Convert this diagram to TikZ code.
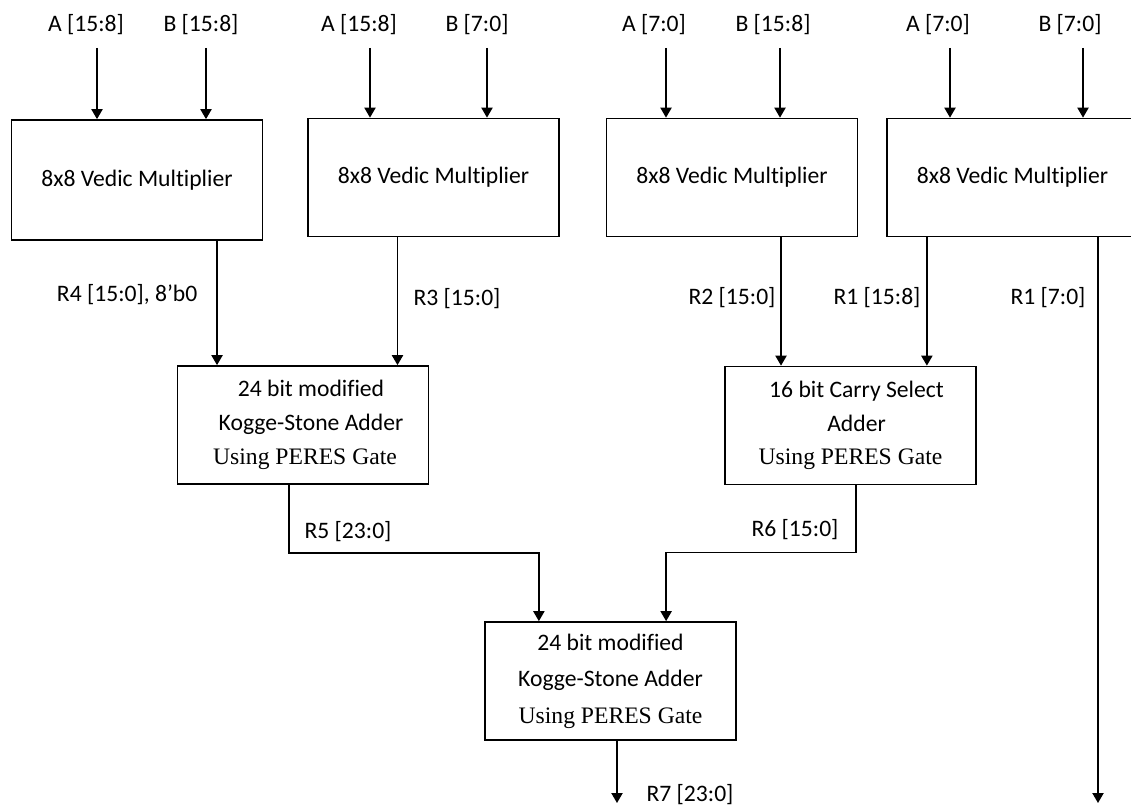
\documentclass[tikz,border=0pt]{standalone}
\usepackage{fontspec}
\setmainfont{Carlito}[Ligatures=NoCommon]
\newfontfamily\peresfont{Liberation Serif}
\usetikzlibrary{arrows.meta,positioning,calc}

\begin{document}
\begin{tikzpicture}[x=0.025cm,y=-0.025cm,
    block/.style={draw,line width=1.2pt,minimum width=6.275cm,minimum height=2.95cm,
        inner sep=0pt,align=center,font=\fontsize{16.8}{24}\selectfont},
    sig/.style={-{Triangle[length=0.25cm,width=0.28cm]},line width=1.1pt},
    lbl/.style={font=\fontsize{16.8}{20}\selectfont,inner sep=1pt}]
    % Page frame
    \useasboundingbox (0,0) rectangle (1131,807);
    \clip (0,0) rectangle (1131,807);

    % Draw the four 8x8 multipliers
    \node[block,minimum height=3cm] (m1) at (137,180) {8x8 Vedic Multiplier};
    \node[block] (m2) at (433.5,177.5) {8x8 Vedic Multiplier};
    \node[block] (m3) at (732,177.5) {8x8 Vedic Multiplier};
    \node[block] (m4) at (1012.5,177.5) {8x8 Vedic Multiplier};

    % Draw the adders
    \node[block] (ks1) at (303,425) {\hspace{0.4cm}24 bit modified\\ \hspace{0.4cm}Kogge-Stone Adder\\ \hspace{0.1cm}{\peresfont Using PERES Gate}};
    \node[block] (csa) at (850.5,425.5) {\hspace{0.3cm}16 bit Carry Select\\ \hspace{0.3cm}Adder\\ {\peresfont Using PERES Gate}\hspace{0.2cm}};
    \node[block] (ks2) at (610.5,681) {24 bit modified\\[2pt] Kogge-Stone Adder\\[2pt] {\peresfont Using PERES Gate}\hspace{0.1cm}};

    % Input operands
    \node[lbl] (a1) at (86,25) {A [15:8]};
    \node[lbl] (b1) at (201,25) {B [15:8]};
    \node[lbl] (a2) at (359,25) {A [15:8]};
    \node[lbl] (b2) at (477,25) {B [7:0]};
    \node[lbl] (a3) at (654,25) {A [7:0]};
    \node[lbl] (b3) at (773,25) {B [15:8]};
    \node[lbl] (a4) at (938,25) {A [7:0]};
    \node[lbl] (b4) at (1070,25) {B [7:0]};
    \coordinate (ia1) at (97,48);
    \coordinate (ib1) at (206,48);
    \coordinate (ia2) at (370,48);
    \coordinate (ib2) at (487,48);
    \coordinate (ia3) at (666,48);
    \coordinate (ib3) at (780,48);
    \coordinate (ia4) at (950,48);
    \coordinate (ib4) at (1083,48);
    \draw[sig] (ia1) -- (ia1 |- m1.north);
    \draw[sig] (ib1) -- (ib1 |- m1.north);
    \draw[sig] (ia2) -- (ia2 |- m2.north);
    \draw[sig] (ib2) -- (ib2 |- m2.north);
    \draw[sig] (ia3) -- (ia3 |- m3.north);
    \draw[sig] (ib3) -- (ib3 |- m3.north);
    \draw[sig] (ia4) -- (ia4 |- m4.north);
    \draw[sig] (ib4) -- (ib4 |- m4.north);

    % Partial products into the adders
    \draw[sig] ([xshift=2cm]m1.south) -- ([xshift=2cm]m1.south |- ks1.north);
    \draw[sig] ([xshift=-0.9cm]m2.south) -- ([xshift=-0.9cm]m2.south |- ks1.north);
    \draw[sig] ([xshift=1.225cm]m3.south) -- ([xshift=1.225cm]m3.south |- csa.north);
    \draw[sig] ([xshift=-2.14cm]m4.south) -- ([xshift=-2.14cm]m4.south |- csa.north);
    \coordinate (r1low) at (1098,803);
    \draw[sig] (r1low |- m4.south) -- (r1low);
    \node[lbl,anchor=east] (r4) at (199,295) {R4 [15:0], 8’b0};
    \node[lbl] (r3) at (457,299) {R3 [15:0]};
    \node[lbl] (r2) at (732,298) {R2 [15:0]};
    \node[lbl] (r1h) at (877,298) {R1 [15:8]};
    \node[lbl] (r1l) at (1048,298) {R1 [7:0]};

    % Sums into the final adder
    \draw[sig] ([xshift=-0.35cm]ks1.south) -- ++(0,68) -| ([xshift=-1.79cm]ks2.north);
    \draw[sig] ([xshift=0.14cm]csa.south) -- ++(0,67) -| ([xshift=1.39cm]ks2.north);
    \node[lbl] (r5) at (348,532) {R5 [23:0]};
    \node[lbl] (r6) at (795,530) {R6 [15:0]};

    % Final result
    \coordinate (r7low) at (617,803);
    \draw[sig] (r7low |- ks2.south) -- (r7low);
    \node[lbl] (r7) at (690,795) {R7 [23:0]};
\end{tikzpicture}
\end{document}
